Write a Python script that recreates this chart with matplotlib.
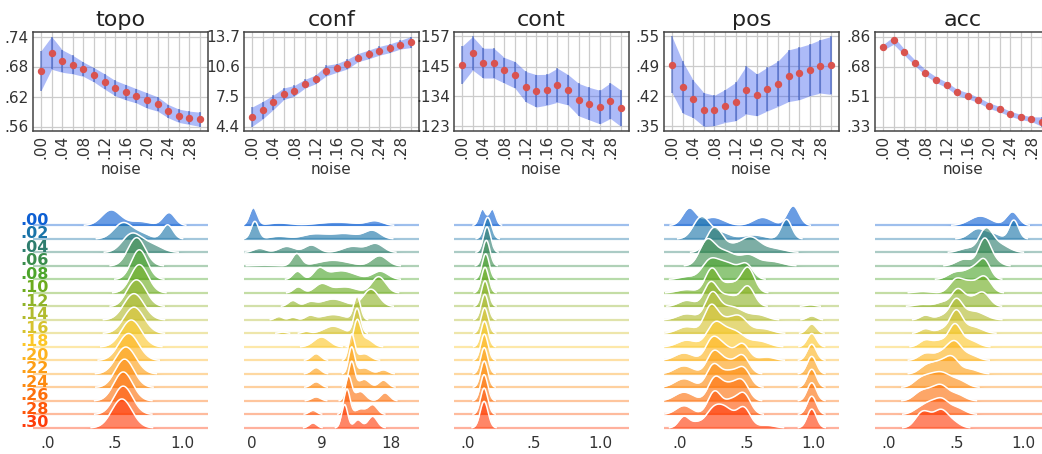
import numpy as np
import matplotlib.pyplot as plt
from matplotlib import transforms

# noise levels (x of the top row, labels of the ridges)
noise = [0.00, 0.02, 0.04, 0.06, 0.08, 0.10, 0.12, 0.14, 0.16, 0.18, 0.20, 0.22, 0.24, 0.26, 0.28, 0.30]
noise_labels = ['.00', '.02', '.04', '.06', '.08', '.10', '.12', '.14', '.16', '.18', '.20', '.22', '.24', '.26', '.28', '.30']

metrics = ['topo', 'conf', 'cont', 'pos', 'acc']

# mean and half-width of the band for every metric
topo_mean = [.673, .708, .692, .685, .676, .665, .652, .639, .631, .624, .615, .608, .594, .585, .581, .578]
topo_err = [.039, .032, .022, .018, .014, .014, .015, .015, .015, .014, .015, .014, .013, .013, .013, .014]
conf_mean = [5.41, 6.08, 6.89, 7.79, 8.10, 8.83, 9.27, 10.18, 10.45, 10.85, 11.52, 11.85, 12.22, 12.49, 12.86, 13.13]
conf_err = [1.0, .9, .75, .6, .55, .45, .45, .55, .45, .5, .42, .45, .45, .45, .45, .57]
cont_mean = [.1459, .1503, .1466, .1466, .1439, .1422, .1378, .1362, .1366, .1383, .1366, .1329, .1314, .1301, .1325, .1296]
cont_err = [.0070, .0063, .0056, .0056, .0048, .0050, .0057, .0061, .0058, .0064, .0057, .0061, .0061, .0063, .0067, .0068]
pos_mean = [.491, .440, .414, .390, .388, .398, .408, .434, .423, .436, .448, .466, .471, .479, .487, .489]
pos_err = [.063, .058, .042, .038, .034, .037, .043, .054, .047, .049, .051, .058, .059, .058, .060, .065]
acc_mean = [.796, .837, .769, .706, .648, .606, .575, .531, .511, .486, .453, .432, .405, .386, .373, .358]
acc_err = [.016, .023, .018, .017, .017, .017, .016, .018, .017, .016, .016, .016, .015, .015, .014, .028]

means = [topo_mean, conf_mean, cont_mean, pos_mean, acc_mean]
errs = [topo_err, conf_err, cont_err, pos_err, acc_err]
ytick_fmt = ['%.2f', '%.1f', '%.3f', '%.2f', '%.2f']

# ridge shapes: (centre, spread, height in row units) per noise level
topo_ridges = [
    [(.47, .07, 1.15), (.68, .08, .3), (.90, .045, .95)],
    [(.56, .07, 1.2), (.70, .06, .35), (.89, .04, 1.05)],
    [(.62, .07, 1.3), (.76, .08, .6)],
    [(.66, .065, 2.1)],
    [(.68, .06, 2.2)],
    [(.68, .065, 2.1)],
    [(.60, .05, .4), (.67, .065, 1.8)],
    [(.64, .075, 1.95)],
    [(.64, .075, 1.95)],
    [(.62, .075, 2.0)],
    [(.60, .075, 2.0)],
    [(.58, .075, 2.0)],
    [(.57, .07, 2.1)],
    [(.56, .07, 2.15)],
    [(.56, .07, 2.1)],
    [(.55, .075, 2.15)],
]
conf_ridges = [
    [(0.2, .5, 1.3), (3.5, 1.5, .18), (11, 2.5, .25), (15.9, 1.0, .32)],
    [(0.4, .5, 1.3), (3.5, 1.2, .2), (8, 1.5, .35), (12, 1.8, .4), (15.6, 1.0, .6)],
    [(1.0, .8, .3), (4.5, 1.0, .45), (7.7, .9, .55), (13, 1.3, .45), (16, 1.0, .65)],
    [(1.5, 1.5, .06), (5.8, .6, .9), (10.5, 2.0, .42), (16.5, 1.0, .75)],
    [(5.9, .6, .6), (8.7, .7, .7), (11.5, 1.8, .65), (16.6, 1.0, .6)],
    [(6, .6, .45), (9, .9, .65), (12, 1.5, .45), (16.4, .9, 1.2)],
    [(5.3, .6, .44), (7.5, .7, .3), (10.5, 1.5, .55), (15.4, 1.0, 1.28)],
    [(3.5, .5, .25), (5.3, .5, .2), (7.5, .6, .3), (10.5, 1.5, .4), (13.6, .45, 1.7)],
    [(4, .5, .1), (7, .5, .15), (10.5, 1.2, .54), (13.6, .45, 1.85)],
    [(9, 1.0, .74), (13.6, .45, 1.85), (14.8, .8, .6)],
    [(8.3, .6, .5), (12.9, .4, 1.9), (14.5, .8, .5)],
    [(8.3, .6, .47), (12.9, .4, 1.95), (14.5, .8, .45), (17, .6, .3)],
    [(8.3, .6, .42), (12.9, .4, 1.9), (14.5, .7, .6), (17, .6, .54)],
    [(8.3, .6, .3), (12.5, .4, 1.8), (14.0, .7, .7), (17.2, .6, .6)],
    [(7.9, .5, .3), (12.3, .4, 1.88), (14.0, .6, .4), (15.6, .6, .72)],
    [(7.9, .5, .37), (12.0, .4, 1.73), (13.7, .5, .6), (15.6, .6, .86)],
]
cont_ridges = [
    [(.11, .025, 1.2), (.185, .025, 1.2)],
    [(.15, .03, 1.6)],
    [(.145, .028, 1.9)],
    [(.14, .028, 1.9)],
    [(.135, .028, 1.9)],
    [(.13, .028, 1.9)],
    [(.13, .028, 1.9)],
    [(.128, .028, 1.9)],
    [(.127, .028, 1.9)],
    [(.126, .028, 1.9)],
    [(.125, .028, 1.95)],
    [(.124, .028, 1.95)],
    [(.124, .028, 1.95)],
    [(.123, .028, 1.95)],
    [(.123, .028, 1.95)],
    [(.123, .03, 1.97)],
]
pos_ridges = [
    [(.07, .05, 1.25), (.25, .08, .6), (.62, .07, .6), (.85, .045, 1.45)],
    [(.16, .06, 1.6), (.30, .07, .5), (.55, .08, .3), (.80, .04, 1.45)],
    [(.26, .06, 1.85), (.40, .06, .4), (.53, .07, 1.1), (.70, .08, .3)],
    [(.20, .055, 1.6), (.33, .09, 1.1), (.52, .06, .7), (.68, .08, .35)],
    [(.05, .06, .2), (.22, .06, 1.2), (.35, .08, 1.2), (.50, .05, 1.0)],
    [(.05, .07, .25), (.24, .05, 1.8), (.38, .06, .7), (.51, .05, 1.85)],
    [(.05, .06, .45), (.23, .05, 1.7), (.36, .07, .8), (.51, .05, 1.45), (.98, .04, .12)],
    [(.05, .07, .45), (.24, .05, 1.7), (.38, .10, 1.0), (.60, .06, .3), (.99, .035, .3)],
    [(.05, .07, .5), (.23, .05, 1.8), (.33, .07, .9), (.45, .06, 1.1), (.62, .07, .35), (.99, .035, .7)],
    [(.05, .07, .5), (.26, .06, 1.6), (.40, .08, 1.2), (.60, .07, .4), (.99, .035, 1.0)],
    [(.03, .07, .55), (.24, .05, 1.4), (.33, .06, 1.0), (.47, .05, 1.2), (.65, .06, .25), (.99, .035, 1.2)],
    [(.03, .07, .6), (.25, .05, 1.5), (.35, .06, .9), (.47, .05, 1.3), (.99, .035, 1.3)],
    [(.03, .07, .65), (.25, .05, 1.6), (.37, .06, 1.1), (.48, .05, 1.3), (.99, .035, 1.35)],
    [(.03, .07, .65), (.26, .05, 1.6), (.37, .06, 1.1), (.47, .05, 1.3), (.99, .035, 1.35)],
    [(.03, .06, .65), (.26, .05, 1.7), (.38, .05, .9), (.48, .05, 1.5), (.99, .035, 1.35)],
    [(.03, .04, .85), (.12, .04, .3), (.25, .06, 1.3), (.35, .06, 1.2), (.48, .05, 1.45), (.65, .06, .2), (.99, .035, 1.4)],
]
acc_ridges = [
    [(.68, .08, .7), (.92, .045, 1.0)],
    [(.66, .06, .75), (.78, .05, .35), (.93, .035, 1.4)],
    [(.58, .06, .3), (.72, .05, 1.6), (.82, .07, .6)],
    [(.56, .06, .5), (.71, .045, 1.9), (.78, .05, .4)],
    [(.50, .06, .55), (.62, .05, .7), (.71, .045, 1.4)],
    [(.25, .06, .1), (.50, .05, 1.0), (.60, .05, .7), (.71, .05, 1.2)],
    [(.25, .06, .15), (.40, .05, .3), (.51, .045, 1.2), (.60, .05, .5), (.70, .05, 1.0)],
    [(.27, .04, .35), (.40, .05, .3), (.50, .045, 1.4), (.63, .08, .65)],
    [(.27, .04, .35), (.40, .05, .3), (.50, .045, 1.6), (.62, .07, .5)],
    [(.27, .045, .5), (.38, .05, .45), (.49, .045, 1.6), (.60, .06, .5)],
    [(.27, .05, .5), (.40, .06, .6), (.49, .05, 1.2), (.60, .06, .4)],
    [(.27, .05, .5), (.37, .06, .8), (.47, .05, 1.1), (.60, .06, .35)],
    [(.22, .05, .4), (.30, .06, .7), (.40, .06, .9), (.52, .06, .5)],
    [(.22, .05, .4), (.30, .06, .7), (.39, .05, .9), (.50, .06, .5)],
    [(.22, .05, .35), (.30, .05, .7), (.39, .05, 1.0), (.50, .06, .5)],
    [(.24, .05, .95), (.30, .05, .5), (.39, .05, 1.2), (.48, .05, .4)],
]
ridges = [topo_ridges, conf_ridges, cont_ridges, pos_ridges, acc_ridges]
ridge_xlim = [(-0.11, 1.19), (-1.0, 21.6), (-0.105, 1.22), (-0.12, 1.195), (-0.105, 1.2)]
ridge_xticks = [[0, .5, 1.0], [0, 9, 18], [0, .5, 1.0], [0, .5, 1.0], [0, .5, 1.0]]
ridge_xticklabels = [['.0', '.5', '1.0'], ['0', '9', '18'], ['.0', '.5', '1.0'], ['.0', '.5', '1.0'], ['.0', '.5', '1.0']]

row_colors = ['#0d5fd3', '#1a74a8', '#2e7d6e', '#3b8d4d', '#4da52c', '#6cab1e', '#8fb328', '#b2bb2e',
              '#d6c22e', '#fcc728', '#fdb31f', '#fd9e15', '#fd8a0f', '#fd700c', '#fe570a', '#ff3c0a']

W, H = 1042, 454
fig = plt.figure(figsize=(W / 100, H / 100), dpi=100)


def px_axes(left, top, width, height):
    return fig.add_axes([left / W, 1 - (top + height) / H, width / W, height / H])


lefts = [33, 244, 454, 664, 875]
for k, name in enumerate(metrics):
    # ---- top row: mean with band ----
    ax = px_axes(lefts[k], 32, 175, 99)
    m = np.array(means[k])
    e = np.array(errs[k])
    ax.fill_between(noise, m - e, m + e, color='#3355ee', alpha=.4, lw=0, zorder=2)
    ax.vlines(noise, m - e, m + e, color='#3355bb', alpha=.55, lw=1.3, zorder=3)
    ax.plot(noise, m, 'o', color='#d9534f', ms=4.3, zorder=4)
    lo, hi = (m - e).min(), (m + e).max()
    yt = np.linspace(lo, hi, 4)
    ax.set_yticks(yt)
    ax.set_yticklabels([(ytick_fmt[k] % v).lstrip('0') for v in yt])
    ax.set_xticks(noise)
    ax.set_xticklabels([lab if i % 2 == 0 and i < 15 else '' for i, lab in enumerate(noise_labels)], rotation=90)
    ax.tick_params(length=0, labelsize=11, labelcolor='#333333', pad=3)
    ax.grid(True, color='#cccccc', lw=.9, zorder=0)
    ax.set_axisbelow(True)
    for s in ax.spines.values():
        s.set_color('#444444')
        s.set_linewidth(1.1)
    ax.set_title(name, fontsize=16, pad=4, color='#222222')
    ax.set_xlabel('noise', fontsize=11, color='#333333', labelpad=2)

    # ---- bottom row: ridgelines ----
    bx = px_axes(lefts[k], 180, 175, 252)
    xs = np.linspace(ridge_xlim[k][0], ridge_xlim[k][1], 600)
    for i, row in enumerate(ridges[k]):
        ys = np.zeros_like(xs)
        for mu, sd, h in row:
            ys += h * np.exp(-0.5 * ((xs - mu) / sd) ** 2)
        base = -i
        c = row_colors[i]
        bx.axhline(base, color=c, alpha=.4, lw=1.6, zorder=3 * i)
        bx.fill_between(xs, base, base + ys, color=c, alpha=.62, lw=0, zorder=3 * i + 1)
        outline = np.where(ys > 0.02, base + ys, np.nan)
        bx.plot(xs, outline, color='white', lw=1.1, zorder=3 * i + 2)
        if k == 0:
            tr = transforms.blended_transform_factory(bx.transAxes, bx.transData)
            bx.text(-0.075, base + 0.05, noise_labels[i], transform=tr, color=c,
                    fontsize=11.5, fontweight='bold', ha='left', va='baseline', zorder=100)
    bx.set_xlim(ridge_xlim[k])
    bx.set_ylim(-15.3, 3.37)
    bx.set_yticks([])
    bx.set_xticks(ridge_xticks[k])
    bx.set_xticklabels(ridge_xticklabels[k])
    bx.tick_params(length=0, labelsize=11, labelcolor='#333333', pad=3)
    for s in bx.spines.values():
        s.set_visible(False)
    bx.patch.set_alpha(0)

fig.savefig('out.png', dpi=100)
